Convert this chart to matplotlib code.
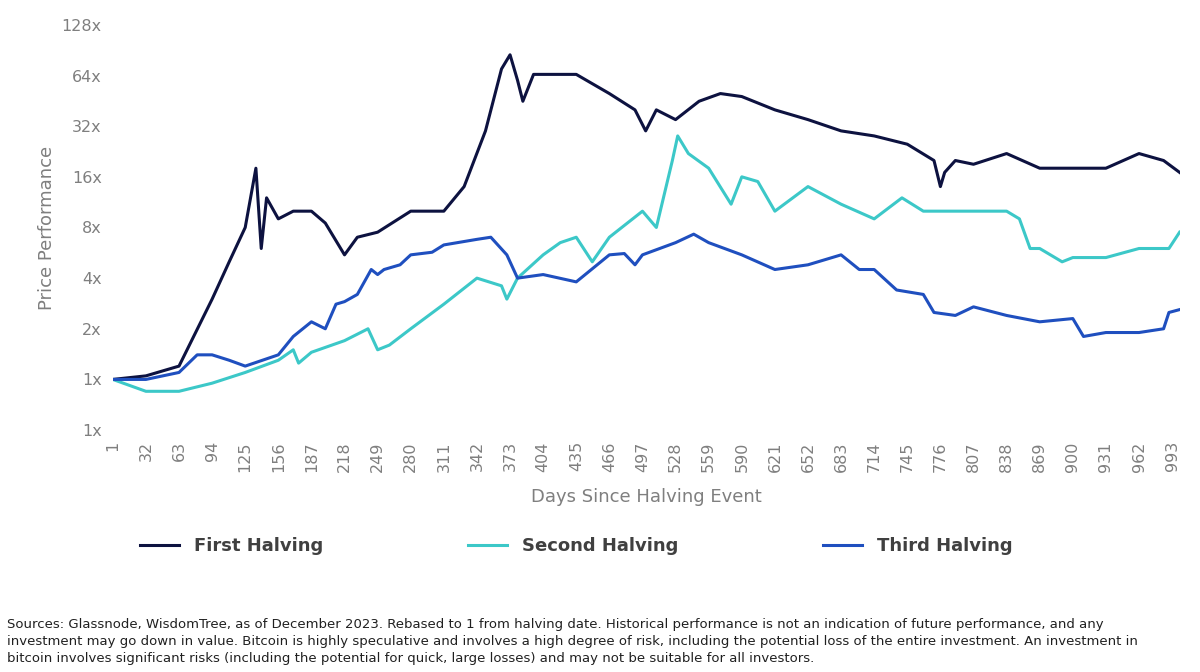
import matplotlib
matplotlib.use('Agg')
import matplotlib.pyplot as plt

# days since halving / price rebased to 1
first_days = [1, 32, 63, 94, 110, 125, 135, 140, 145, 156, 170, 187, 200, 218, 230, 249, 280, 311, 330, 350,
              365, 373, 380, 385, 395, 435, 466, 490, 500, 510, 528, 550, 570, 590, 621, 652, 683, 714, 745,
              770, 776, 780, 790, 807, 838, 869, 900, 931, 962, 985, 1000]
first_vals = [1, 1.05, 1.2, 3, 5, 8, 18, 6, 12, 9, 10, 10, 8.5, 5.5, 7, 7.5, 10, 10, 14, 30,
              70, 85, 60, 45, 65, 65, 50, 40, 30, 40, 35, 45, 50, 48, 40, 35, 30, 28, 25,
              20, 14, 17, 20, 19, 22, 18, 18, 18, 22, 20, 17]

second_days = [1, 32, 63, 94, 125, 156, 170, 175, 187, 218, 240, 249, 260, 280, 311, 342, 365, 370, 380, 404,
               420, 435, 450, 466, 497, 510, 525, 530, 540, 559, 580, 590, 605, 621, 652, 683, 714, 740, 760,
               776, 807, 838, 850, 860, 869, 890, 900, 931, 962, 990, 1000]
second_vals = [1, 0.85, 0.85, 0.95, 1.1, 1.3, 1.5, 1.25, 1.45, 1.7, 2.0, 1.5, 1.6, 2.0, 2.8, 4, 3.6, 3.0, 4, 5.5,
               6.5, 7, 5, 7, 10, 8, 20, 28, 22, 18, 11, 16, 15, 10, 14, 11, 9, 12, 10,
               10, 10, 10, 9, 6, 6, 5, 5.3, 5.3, 6, 6, 7.5]

third_days = [1, 32, 63, 80, 94, 110, 125, 156, 170, 187, 200, 210, 218, 230, 243, 249, 255, 270, 280, 300,
              311, 342, 355, 370, 380, 404, 435, 466, 480, 490, 497, 528, 545, 559, 590, 621, 652, 683, 700,
              714, 735, 760, 770, 790, 807, 838, 869, 900, 910, 931, 962, 985, 990, 1000]
third_vals = [1, 1.0, 1.1, 1.4, 1.4, 1.3, 1.2, 1.4, 1.8, 2.2, 2.0, 2.8, 2.9, 3.2, 4.5, 4.2, 4.5, 4.8, 5.5, 5.7,
              6.3, 6.8, 7, 5.5, 4.0, 4.2, 3.8, 5.5, 5.6, 4.8, 5.5, 6.5, 7.3, 6.5, 5.5, 4.5, 4.8, 5.5, 4.5,
              4.5, 3.4, 3.2, 2.5, 2.4, 2.7, 2.4, 2.2, 2.3, 1.8, 1.9, 1.9, 2.0, 2.5, 2.6]

y_ticks = [0.5, 1, 2, 4, 8, 16, 32, 64, 128]
y_labels = ['1x', '1x', '2x', '4x', '8x', '16x', '32x', '64x', '128x']
x_ticks = list(range(1, 1000, 31))

grey = '#7f7f7f'
fig = plt.figure(figsize=(12, 6.72), dpi=100)
ax = fig.add_axes([0.094, 0.36, 0.889, 0.603])
ax.plot(first_days, first_vals, color='#0d1240', lw=2.2, label='First Halving')
ax.plot(second_days, second_vals, color='#3cc8c8', lw=2.2, label='Second Halving')
ax.plot(third_days, third_vals, color='#1f4fbf', lw=2.2, label='Third Halving')

ax.set_yscale('log', base=2)
ax.set_ylim(0.5, 128)
ax.set_yticks(y_ticks)
ax.set_yticklabels(y_labels)
ax.minorticks_off()
ax.set_xlim(1, 1000)
ax.set_xticks(x_ticks)
ax.set_xticklabels([str(t) for t in x_ticks], rotation=90)
ax.tick_params(length=0, labelsize=11.5, colors=grey, pad=8)
for s in ax.spines.values():
    s.set_visible(False)
ax.set_ylabel('Price Performance', color=grey, fontsize=13)
ax.set_xlabel('Days Since Halving Event', color=grey, fontsize=13, labelpad=12)

leg = fig.legend(loc='center', bbox_to_anchor=(0.48, 0.187), ncol=3, frameon=False,
                 fontsize=13, handlelength=2.2, columnspacing=8)
for t in leg.get_texts():
    t.set_fontweight('bold')
    t.set_color('#404040')

fig.text(0.006, 0.015,
         'Sources: Glassnode, WisdomTree, as of December 2023. Rebased to 1 from halving date. Historical performance is not an indication of future performance, and any\n'
         'investment may go down in value. Bitcoin is highly speculative and involves a high degree of risk, including the potential loss of the entire investment. An investment in\n'
         'bitcoin involves significant risks (including the potential for quick, large losses) and may not be suitable for all investors.',
         fontsize=9.5, color='#202020', linespacing=1.4)

fig.savefig('out.png', dpi=100)
